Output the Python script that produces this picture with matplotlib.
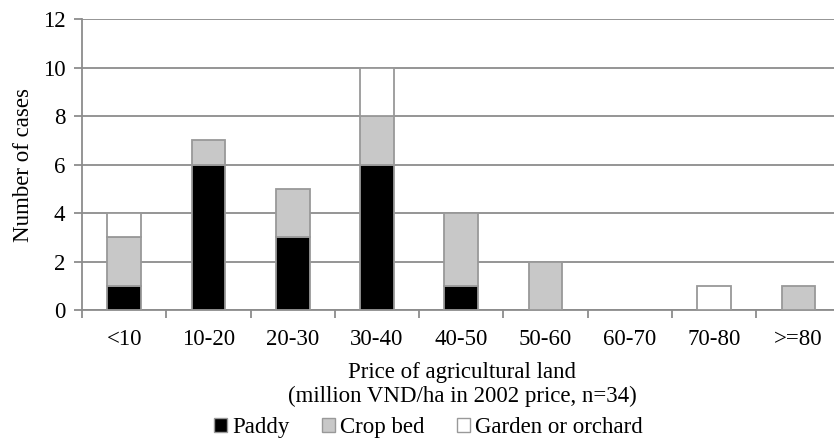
import numpy as np
import matplotlib.pyplot as plt

plt.rcParams['font.family'] = ['Liberation Serif', 'DejaVu Serif']

categories = ['<10', '10-20', '20-30', '30-40', '40-50', '50-60', '60-70', '70-80', '>=80']
paddy = [1, 6, 3, 6, 1, 0, 0, 0, 0]
crop_bed = [2, 1, 2, 2, 3, 2, 0, 0, 1]
garden = [1, 0, 0, 2, 0, 0, 0, 1, 0]

fs = 16.5

fig = plt.figure(figsize=(8.34, 4.42), dpi=100)
ax = fig.add_axes([0.0983, 0.2986, 1.008 - 0.0983, 0.9563 - 0.2986])

x = np.arange(len(categories))
w = 0.40
ec = '#999999'
paddy_a = np.array(paddy)
crop_a = np.array(crop_bed)
garden_a = np.array(garden)

def draw(vals, bottom, color, label):
    mask = vals > 0
    ax.bar(x[mask], vals[mask], w, bottom=bottom[mask], color=color,
           edgecolor=ec, linewidth=1.3, zorder=3)
    # legend proxy
    ax.bar([0], [0], w, color=color, edgecolor=ec, linewidth=1.0, label=label)

zeros = np.zeros(len(categories))
draw(paddy_a, zeros, 'black', 'Paddy')
draw(crop_a, paddy_a, '#c8c8c8', 'Crop bed')
draw(garden_a, paddy_a + crop_a, 'white', 'Garden or orchard')

ax.set_xlim(-0.5, len(categories) - 0.5)
ax.set_ylim(0, 12)
ax.set_yticks(range(0, 13, 2))
ax.yaxis.grid(True, color='#8c8c8c', linewidth=1.3, zorder=0)
ax.set_axisbelow(True)

ax.set_xticks(x)
ax.set_xticklabels(categories, fontsize=fs)
ax.set_xticks(np.arange(-0.5, len(categories)), minor=True)
ax.tick_params(axis='x', which='major', length=0, pad=14)
ax.tick_params(axis='x', which='minor', length=6, width=1.3, color='#8c8c8c', direction='out')
ax.tick_params(axis='y', length=6, width=1.3, color='#8c8c8c', labelsize=fs, pad=6)

for s in ['top', 'right']:
    ax.spines[s].set_visible(False)
for s in ['left', 'bottom']:
    ax.spines[s].set_color('#8c8c8c')
    ax.spines[s].set_linewidth(1.3)

ax.set_ylabel('Number of cases', fontsize=fs, labelpad=6)
fig.text(0.554, 0.13, 'Price of agricultural land\n(million VND/ha in 2002 price, n=34)',
         ha='center', va='center', fontsize=fs, linespacing=1.15)

leg = fig.legend(loc='center', bbox_to_anchor=(0.514, 0.032), ncol=3, frameon=False,
                 fontsize=fs, handlelength=0.55, handleheight=0.55, handletextpad=0.25,
                 columnspacing=1.4, borderpad=0)

fig.savefig('out.png', dpi=100)
